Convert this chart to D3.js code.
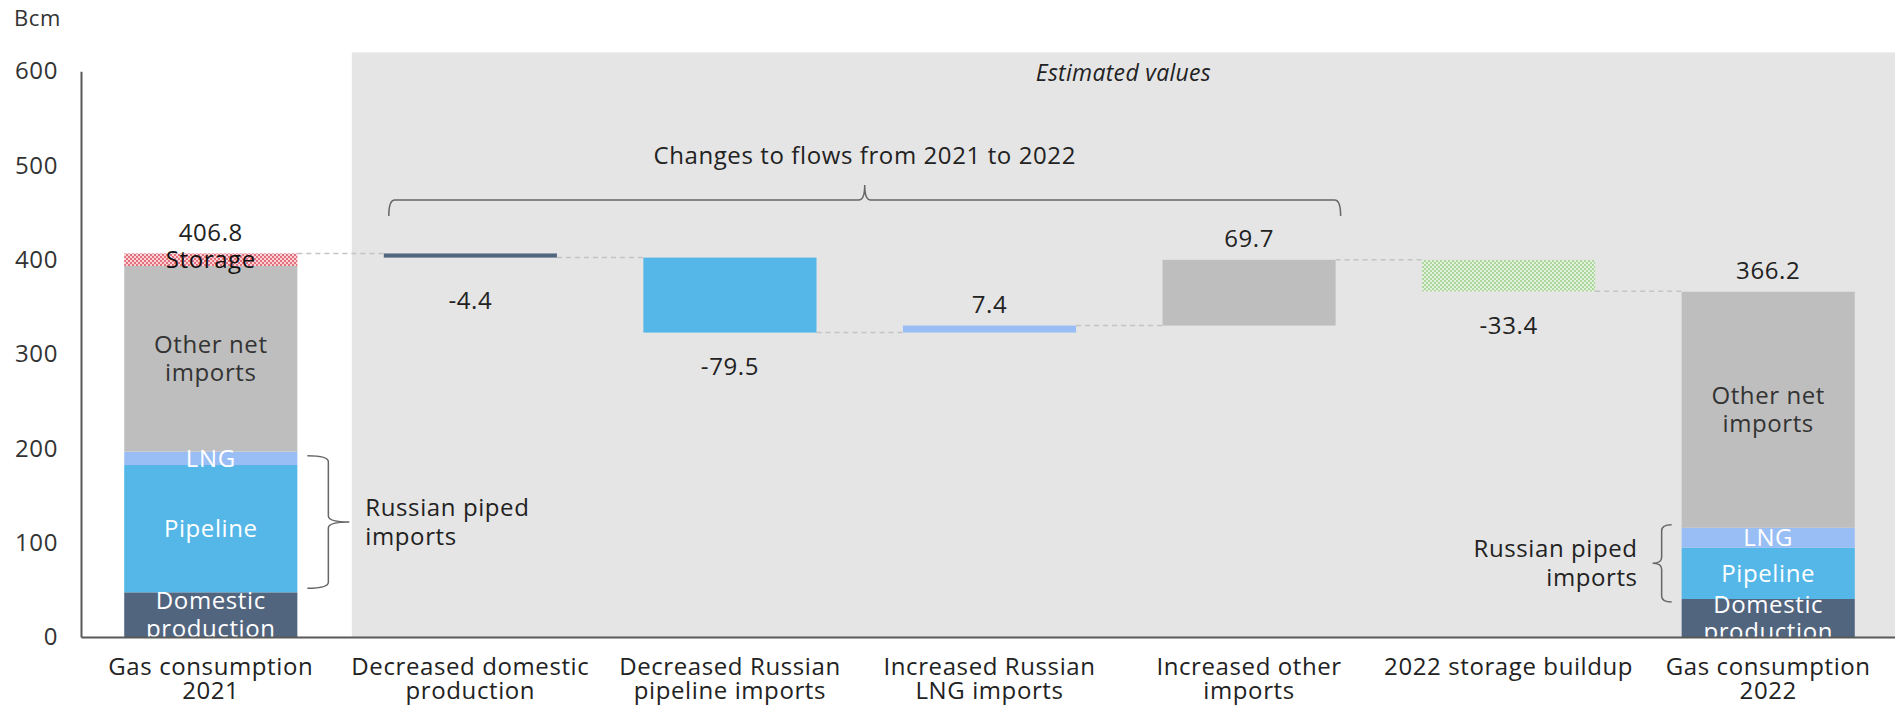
<!DOCTYPE html>
<html>
<head>
<meta charset="utf-8">
<script src="https://cdn.jsdelivr.net/npm/d3@7"></script>
<style>
  html, body { margin: 0; padding: 0; background: #fff; }
  svg { display: block; font-family: "Open Sans", "Noto Sans", sans-serif; }
  svg text { letter-spacing: 0.6px; }
</style>
</head>
<body>
<svg id="chart" width="1895" height="706"></svg>
<script>
// Category keys and their two-line axis labels
const categories = ["c2021", "dDomestic", "dPipeline", "iLNG", "iOther", "storage2022", "c2022"];
const categoryLabels = [
  ["Gas consumption", "2021"],
  ["Decreased domestic", "production"],
  ["Decreased Russian", "pipeline imports"],
  ["Increased Russian", "LNG imports"],
  ["Increased other", "imports"],
  ["2022 storage buildup"],
  ["Gas consumption", "2022"]
];

// Stacked totals (Bcm): domestic, Russian pipeline, Russian LNG, other net imports, storage
const segmentKeys = ["domestic", "pipeline", "lng", "other", "storage"];
const segmentLabels = [["Domestic", "production"], ["Pipeline"], ["LNG"], ["Other net", "imports"], ["Storage"]];
const stack2021 = [47.4, 135.0, 14.1, 197.0, 13.3];
const stack2022 = [40.3, 54.4, 21.2, 250.3, 0];
const totalLabels = [406.8, 366.2];

// Year-on-year changes drawn as floating waterfall bars
const changeCategories = ["dDomestic", "dPipeline", "iLNG", "iOther", "storage2022"];
const changeValues = [-4.4, -79.5, 7.4, 69.7, -33.4];
const changeKinds = ["domestic", "pipeline", "lng", "other", "storageBuild"];

const yTicks = [0, 100, 200, 300, 400, 500, 600];

const colors = {
  domestic: "#52657f",
  pipeline: "#54b7e8",
  lng: "#99bdf5",
  other: "#bebebe",
  storage: "url(#storageRed)",
  storageBuild: "url(#storageGreen)"
};
const textColors = { domestic: "#ffffff", pipeline: "#ffffff", lng: "#ffffff", other: "#333333", storage: "#111111" };

const FS = 24;
const svg = d3.select("#chart");
const W = 1895;

const x = d3.scaleBand().domain(categories).range([81, 1898]).paddingInner(0.333).paddingOuter(0.1665);
const y = d3.scaleLinear().domain([0, 600]).range([637, 71.3]);
const bw = x.bandwidth();

// Number format with a plain hyphen for negatives
const fmt = d3.formatLocale({ decimal: ".", thousands: ",", grouping: [3], currency: ["", ""], minus: "-" }).format(".1f");

// Hatch patterns for the storage bars
const defs = svg.append("defs");
const pr = defs.append("pattern").attr("id", "storageRed").attr("patternUnits", "userSpaceOnUse").attr("width", 4).attr("height", 4);
pr.append("rect").attr("width", 4).attr("height", 4).attr("fill", "#fbd3d7");
pr.append("rect").attr("width", 2).attr("height", 2).attr("fill", "#e36f7c");
pr.append("rect").attr("x", 2).attr("y", 2).attr("width", 2).attr("height", 2).attr("fill", "#e36f7c");
const pg = defs.append("pattern").attr("id", "storageGreen").attr("patternUnits", "userSpaceOnUse").attr("width", 4).attr("height", 4);
pg.append("rect").attr("width", 4).attr("height", 4).attr("fill", "#e2f0dc");
pg.append("rect").attr("width", 2).attr("height", 2).attr("fill", "#acd79e");
pg.append("rect").attr("x", 2).attr("y", 2).attr("width", 2).attr("height", 2).attr("fill", "#acd79e");

// Shaded "estimated" region
const shadeLeft = x("dDomestic") - 32;
svg.append("rect")
  .attr("x", shadeLeft).attr("y", y(620))
  .attr("width", W - shadeLeft).attr("height", y(0) - y(620))
  .attr("fill", "#e5e5e5");
svg.append("text")
  .attr("x", (shadeLeft + W) / 2).attr("y", y(600) + 2)
  .attr("text-anchor", "middle").attr("dy", "0.35em")
  .attr("font-size", 23).attr("font-style", "italic").attr("fill", "#222")
  .style("letter-spacing", "0.3px")
  .text("Estimated values");

// Stacked total bars
function drawStack(cat, values) {
  let base = 0;
  const segs = values.map((v, i) => {
    const s = { key: segmentKeys[i], label: segmentLabels[i], y0: base, y1: base + v };
    base += v;
    return s;
  }).filter(s => s.y1 > s.y0);
  const g = svg.append("g");
  g.selectAll("rect").data(segs).join("rect")
    .attr("x", x(cat)).attr("width", bw)
    .attr("y", d => y(d.y1)).attr("height", d => y(d.y0) - y(d.y1))
    .attr("fill", d => colors[d.key]);
  const t = g.selectAll("text").data(segs).join("text")
    .attr("text-anchor", "middle").attr("font-size", FS)
    .attr("fill", d => textColors[d.key])
    .attr("x", x(cat) + bw / 2)
    .attr("y", d => (y(d.y0) + y(d.y1)) / 2);
  t.each(function (d) {
    const n = d.label.length;
    d3.select(this).selectAll("tspan").data(d.label).join("tspan")
      .attr("x", x(cat) + bw / 2)
      .attr("dy", (l, i) => i === 0 ? `${0.35 - (n - 1) * 0.575}em` : "1.15em")
      .text(l => l);
  });
  return segs;
}

// Waterfall steps
let running = totalLabels[0];
const steps = changeValues.map((v, i) => {
  const s = { cat: changeCategories[i], kind: changeKinds[i], v, start: running, end: running + v };
  running += v;
  return s;
});

// Dashed connectors between consecutive bars
const levels = [totalLabels[0]].concat(steps.map(s => s.end));
const seq = ["c2021"].concat(changeCategories).concat(["c2022"]);
svg.append("g").selectAll("line").data(levels).join("line")
  .attr("x1", (d, i) => x(seq[i]) + bw)
  .attr("x2", (d, i) => x(seq[i + 1]))
  .attr("y1", d => y(d)).attr("y2", d => y(d))
  .attr("stroke", "#c4c4c4").attr("stroke-width", 1.5).attr("stroke-dasharray", "5,4");

const segs2021 = drawStack("c2021", stack2021);
const segs2022 = drawStack("c2022", stack2022);

svg.append("g").selectAll("rect").data(steps).join("rect")
  .attr("x", d => x(d.cat)).attr("width", bw)
  .attr("y", d => y(Math.max(d.start, d.end)))
  .attr("height", d => Math.abs(y(d.start) - y(d.end)))
  .attr("fill", d => colors[d.kind]);

// Value labels: below falling bars, above rising ones
svg.append("g").selectAll("text").data(steps).join("text")
  .attr("x", d => x(d.cat) + bw / 2)
  .attr("y", d => d.v < 0 ? Math.max(y(d.end) + 34, y(d.start) + 47) : y(d.end) - 21)
  .attr("dy", "0.35em").attr("text-anchor", "middle")
  .attr("font-size", FS).attr("fill", "#222")
  .text(d => fmt(d.v));
svg.append("g").selectAll("text").data([["c2021", totalLabels[0]], ["c2022", totalLabels[1]]]).join("text")
  .attr("x", d => x(d[0]) + bw / 2)
  .attr("y", d => y(d[1]) - 21)
  .attr("dy", "0.35em").attr("text-anchor", "middle")
  .attr("font-size", FS).attr("fill", "#222")
  .text(d => fmt(d[1]));

// Curly brackets
const bracketStyle = sel => sel.attr("fill", "none").attr("stroke", "#666").attr("stroke-width", 1.5);
function vBrace(x0, xs, xt, y0, y1) {
  const ym = (y0 + y1) / 2, r = 6;
  return `M${x0},${y0} Q${xs},${y0} ${xs},${y0 + r} L${xs},${ym - r} Q${xs},${ym} ${xt},${ym}` +
         ` Q${xs},${ym} ${xs},${ym + r} L${xs},${y1 - r} Q${xs},${y1} ${x0},${y1}`;
}
function hBrace(x0, x1, ye, ys, yt) {
  const xm = (x0 + x1) / 2, r = 6;
  return `M${x0},${ye} Q${x0},${ys} ${x0 + r},${ys} L${xm - r},${ys} Q${xm},${ys} ${xm},${yt}` +
         ` Q${xm},${ys} ${xm + r},${ys} L${x1 - r},${ys} Q${x1},${ys} ${x1},${ye}`;
}

// Russian imports bracket, 2021 (LNG + pipeline)
const r21 = segs2021.filter(s => s.key === "pipeline" || s.key === "lng");
const b21Right = x("c2021") + bw;
svg.append("path").call(bracketStyle)
  .attr("d", vBrace(b21Right + 10, b21Right + 31, b21Right + 52,
                    y(d3.max(r21, s => s.y1)) + 4, y(d3.min(r21, s => s.y0)) - 4));
svg.append("text").attr("font-size", FS).attr("fill", "#222")
  .attr("x", b21Right + 68).attr("y", (y(d3.max(r21, s => s.y1)) + y(d3.min(r21, s => s.y0))) / 2)
  .selectAll("tspan").data(["Russian piped", "imports"]).join("tspan")
  .attr("x", b21Right + 68).attr("dy", (d, i) => i === 0 ? "-0.25em" : "1.2em").text(d => d);

// Russian imports bracket, 2022
const r22 = segs2022.filter(s => s.key === "pipeline" || s.key === "lng");
const b22Left = x("c2022");
svg.append("path").call(bracketStyle)
  .attr("d", vBrace(b22Left - 10, b22Left - 20, b22Left - 29,
                    y(d3.max(r22, s => s.y1)) - 3, y(d3.min(r22, s => s.y0)) + 3));
svg.append("text").attr("font-size", FS).attr("fill", "#222").attr("text-anchor", "end")
  .attr("x", b22Left - 44).attr("y", (y(d3.max(r22, s => s.y1)) + y(d3.min(r22, s => s.y0))) / 2)
  .selectAll("tspan").data(["Russian piped", "imports"]).join("tspan")
  .attr("x", b22Left - 44).attr("dy", (d, i) => i === 0 ? "-0.25em" : "1.2em").text(d => d);

// Bracket over the flow changes
const hx0 = x("dDomestic") + 5, hx1 = x("iOther") + bw + 5;
svg.append("path").call(bracketStyle)
  .attr("d", hBrace(hx0, hx1, y(446.5), y(463.5), y(479.5)));
svg.append("text").attr("x", (hx0 + hx1) / 2).attr("y", y(511))
  .attr("dy", "0.35em").attr("text-anchor", "middle")
  .attr("font-size", FS).attr("fill", "#222")
  .text("Changes to flows from 2021 to 2022");

// Axes
const yAxis = svg.append("g").attr("transform", `translate(${x.range()[0]},0)`)
  .call(d3.axisLeft(y).tickValues(yTicks).tickSize(0).tickPadding(23));
yAxis.select(".domain").attr("stroke", "#595959").attr("stroke-width", 2);
yAxis.selectAll("text").attr("font-size", FS).attr("fill", "#333").attr("font-family", "Open Sans");

const xAxis = svg.append("g").attr("transform", `translate(0,${y(0)})`)
  .call(d3.axisBottom(x).tickSize(0).tickFormat(""));
xAxis.select(".domain").attr("stroke", "#595959").attr("stroke-width", 2);
xAxis.selectAll(".tick text").remove();

svg.append("g").selectAll("text").data(categories).join("text")
  .attr("text-anchor", "middle").attr("font-size", FS).attr("fill", "#222")
  .attr("x", d => x(d) + bw / 2).attr("y", y(0) + 38)
  .each(function (d, i) {
    d3.select(this).selectAll("tspan").data(categoryLabels[i]).join("tspan")
      .attr("x", x(d) + bw / 2).attr("dy", (l, j) => j === 0 ? "0" : "1.02em").text(l => l);
  });

svg.append("text").attr("x", 14).attr("y", 26).attr("font-size", 22).attr("fill", "#333").text("Bcm");
</script>
</body>
</html>
